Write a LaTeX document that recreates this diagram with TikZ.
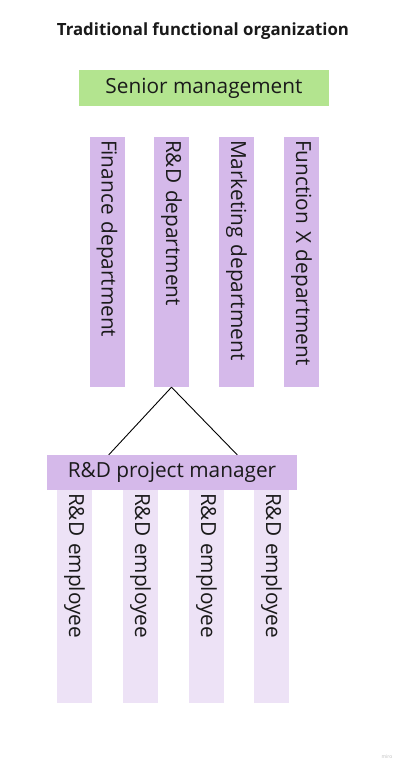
\documentclass[tikz,border=0pt]{standalone}
\usepackage{fontspec}
\setmainfont{Open Sans}
\usetikzlibrary{calc}
\definecolor{mgreen}{HTML}{B3E48F}
\definecolor{mlav}{HTML}{D5B9EA}
\definecolor{mlight}{HTML}{EDE2F6}
\definecolor{mtext}{HTML}{1A1A1A}
\tikzset{
  titletext/.style={font=\fontsize{16.8}{20}\selectfont\bfseries, text=mtext, inner sep=0pt},
  hbox/.style={fill=#1, draw=none, minimum width=250pt, minimum height=35pt, inner sep=0pt,
    font=\fontsize{20.8}{24}\selectfont, text=mtext},
  vbar/.style={fill=#1, draw=none, rotate=-90, minimum height=35pt, inner sep=0pt, inner xsep=3pt,
    align=left, font=\fontsize{20.8}{24}\selectfont, text=mtext},
  dept/.style={vbar=mlav, minimum width=250pt, text width=244pt},
  empl/.style={vbar=mlight, minimum width=213pt, text width=207pt},
  link/.style={draw=black, line width=0.9pt},
}
\begin{document}
\begin{tikzpicture}[x=1pt,y=1pt]
\useasboundingbox[fill=white] (0,0) rectangle (400,-768);
\node[titletext] (title) at (203,-31) {Traditional functional organization};
\node[hbox=mgreen] (sm) at (204,-88) {Senior management};
\node[dept] (fin) at (107,-262) {Finance department};
\node[dept] (rd) at (171.5,-262) {R\&D department};
\node[dept] (mkt) at (236.5,-262) {Marketing department};
\node[dept] (fx) at (301.5,-262) {Function X department};
\node[hbox=mlav] (pm) at (172,-472.5) {R\&D project manager};
\node[empl] (e1) at (74.5,-596.5) {R\&D employee};
\node[empl] (e2) at (140.5,-596.5) {R\&D employee};
\node[empl] (e3) at (206.5,-596.5) {R\&D employee};
\node[empl] (e4) at (271.5,-596.5) {R\&D employee};
\draw[link] (rd.east) -- ($(pm.north west)+(62,0)$);
\draw[link] (rd.east) -- ($(pm.north east)+(-60,0)$);
\node[font=\fontsize{5}{6}\selectfont, text=black!25, inner sep=0pt] (miro) at (387,-757) {miro};
\end{tikzpicture}
\end{document}
